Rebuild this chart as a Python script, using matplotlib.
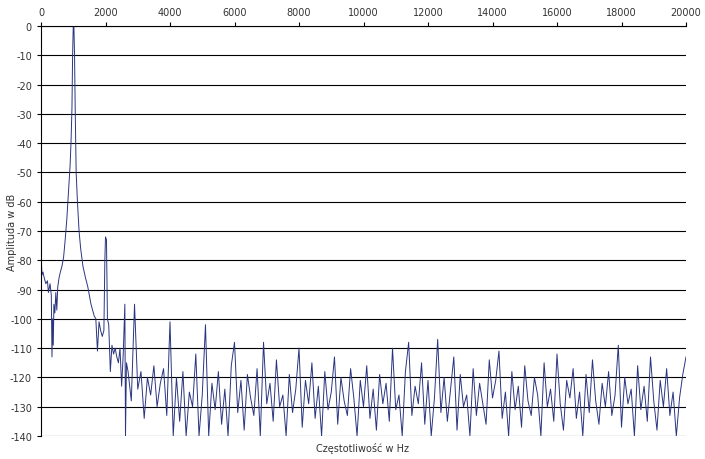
import matplotlib
matplotlib.use("Agg")
import matplotlib.pyplot as plt
import numpy as np

plt.rcParams["axes.unicode_minus"] = False

# --- Data --------------------------------------------------------------------
head_freq = [0, 10, 30, 60, 100, 150, 200, 230, 280, 320, 340, 360, 380, 400, 430, 460,
             490, 520, 560, 600, 650, 700, 750, 800, 850, 900, 930, 960, 980, 1000, 1020,
             1040, 1060, 1090, 1130, 1180, 1230, 1300, 1380, 1450, 1500, 1550, 1600, 1650,
             1700, 1750, 1800, 1850, 1900, 1950, 1980, 2000, 2030, 2060, 2100, 2150, 2200,
             2250, 2300, 2350, 2400, 2450, 2500, 2550, 2600, 2620, 2650]
head_db = [-62, -80, -85, -84, -86, -88, -87, -91, -88, -92, -113, -100, -109, -95, -98, -91,
           -97, -89, -86, -84, -82, -79, -73, -66, -57, -48, -40, -28, -10, 0, 0,
           -10, -28, -50, -60, -70, -76, -82, -86, -89, -92, -95, -97, -99,
           -100, -111, -101, -104, -106, -104, -80, -72, -73, -100, -102, -118, -109,
           -112, -110, -113, -115, -110, -123, -112, -95, -140, -115]

# noise floor, 100 Hz steps from 2700 to 20000 Hz
tail_start = 2700
tail_step = 100
tail_db = [
    -118, -128, -95, -124, -118, -134, -120, -126, -116, -130,   # 2700-3600
    -122, -117, -133, -101, -140, -120, -135, -118, -140, -125,  # 3700-4600
    -130, -112, -140, -126, -102, -140, -122, -131, -118, -136,  # 4700-5600
    -124, -140, -116, -108, -132, -121, -138, -119, -127, -133,  # 5700-6600
    -117, -140, -108, -129, -122, -135, -114, -130, -126, -140,  # 6700-7600
    -119, -132, -124, -110, -137, -121, -129, -115, -134, -123,  # 7700-8600
    -140, -118, -131, -125, -113, -136, -120, -128, -133, -117,  # 8700-9600
    -127, -140, -121, -130, -116, -134, -124, -138, -119, -129,  # 9700-10600
    -122, -135, -110, -131, -126, -140, -118, -108, -133, -123,  # 10700-11600
    -129, -115, -136, -121, -140, -127, -107, -132, -120, -135,  # 11700-12600
    -124, -113, -138, -119, -130, -126, -140, -117, -133, -122,  # 12700-13600
    -129, -136, -114, -127, -121, -111, -134, -125, -140, -118,  # 13700-14600
    -131, -123, -137, -116, -128, -133, -120, -126, -140, -115,  # 14700-15600
    -130, -124, -135, -112, -129, -138, -121, -127, -117, -134,  # 15700-16600
    -125, -140, -119, -132, -114, -128, -136, -122, -130, -118,  # 16700-17600
    -133, -126, -109, -137, -120, -129, -124, -140, -116, -131,  # 17700-18600
    -123, -135, -113, -128, -138, -121, -130, -117, -133, -125,  # 18700-19600
    -140, -127, -119, -113,                                      # 19700-20000
]
tail_freq = [tail_start + i * tail_step for i in range(len(tail_db))]

freq = head_freq + tail_freq
amp_db = head_db + tail_db

# --- Plot ---------------------------------------------------------------------
fig = plt.figure(figsize=(7.05, 4.60), dpi=100)
ax = fig.add_axes([41 / 705, 1 - 437 / 460, 645 / 705, 410 / 460])

ax.plot(freq, amp_db, color="#2a3580", linewidth=0.7)
ax.set_xlim(0, 20000)
ax.set_ylim(-140, 0)
ax.set_xticks(np.arange(0, 20001, 2000))
ax.set_yticks(np.arange(-140, 1, 10))
ax.xaxis.tick_top()
ax.tick_params(labelsize=7, length=3, color="black", labelcolor="#333333")
ax.grid(True, axis="y", color="black", linewidth=0.8)
for side in ("right", "bottom"):
    ax.spines[side].set_visible(False)
fig.text(12 / 705, 1 - 232 / 460, "Amplituda w dB", fontsize=7, rotation=90,
         ha="center", va="center", color="#333333")
fig.text(363 / 705, 1 - 449 / 460, "Częstotliwość w Hz", fontsize=7,
         ha="center", va="center", color="#333333")

fig.savefig("out.png", dpi=100)
plt.close(fig)
